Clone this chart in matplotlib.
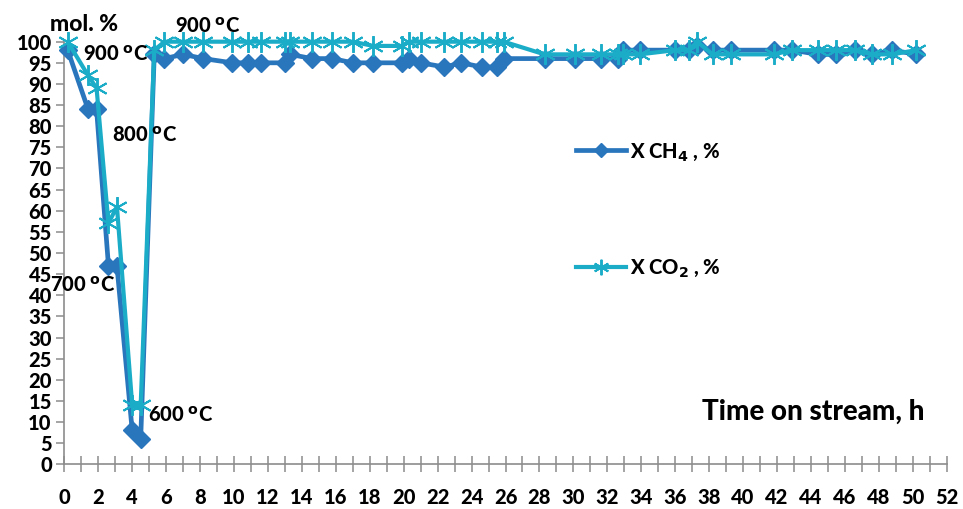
import matplotlib
matplotlib.use("Agg")
import matplotlib.pyplot as plt
from matplotlib.ticker import MultipleLocator

plt.rcParams['font.family'] = ['Lato', 'DejaVu Sans']
plt.rcParams['font.weight'] = 'black'
plt.rcParams['mathtext.default'] = 'bf'

# time on stream, h
time_h = [0.2, 1.4, 1.9, 2.6, 3.1, 4.0, 4.5, 5.3, 5.9, 7.0, 8.2, 9.9, 10.8, 11.6,
          13.0, 13.3, 14.6, 15.8, 17.0, 18.2, 19.9, 20.3, 21.0, 22.4, 23.4, 24.6,
          25.5, 25.9, 28.3, 30.1, 31.6, 32.6, 32.9, 33.9, 36.0, 36.8, 37.3, 38.2,
          39.3, 41.8, 42.9, 44.4, 45.5, 46.6, 47.6, 48.8, 50.2]

x_ch4 = [98, 84, 84, 47, 47, 8, 6, 97, 96, 97, 96, 95, 95, 95,
         95, 97, 96, 96, 95, 95, 95, 96, 95, 94, 95, 94,
         94, 96, 96, 96, 96, 96, 98, 98, 98, 98, 99, 98,
         98, 98, 98, 97, 97, 98, 97, 98, 97]

x_co2 = [100, 92, 89, 57, 61, 14, 14, 98, 100, 100, 100, 100, 100, 100,
         100, 100, 100, 100, 100, 99, 99, 100, 100, 100, 100, 100,
         100, 100, 97, 97, 97, 97, 97, 97, 98, 98, 100, 97,
         97, 97, 98, 98, 98, 98, 97, 97, 98]

temp_labels = ["900", "900", "800", "700", "600"]
temp_pos = [(1.1, 97.2), (6.5, 103.8), (2.8, 78.0), (-0.85, 42.4), (4.95, 11.7)]

blue = "#2a76bd"
cyan = "#1badc8"
grey = "#8c8c8c"

fig = plt.figure(figsize=(9.63, 5.09), dpi=100)
ax = fig.add_axes([0.0668, 0.0878, 0.9163, 0.8303])

ax.plot(time_h, x_ch4, color=blue, lw=3.4, marker="D", ms=9.5,
        mec=blue, mfc=blue, label=r"X CH$_{4}$ , %", clip_on=False, zorder=3)
ax.plot(time_h, x_co2, color=cyan, lw=3.0, marker=(6, 2, 0), ms=15,
        mec=cyan, mew=1.4, label=r"X CO$_{2}$ , %", clip_on=False, zorder=4)

ax.set_xlim(0, 52)
ax.set_ylim(0, 100)
ax.xaxis.set_major_locator(MultipleLocator(2))
ax.xaxis.set_minor_locator(MultipleLocator(1))
ax.yaxis.set_major_locator(MultipleLocator(5))

for s in ["top", "right"]:
    ax.spines[s].set_visible(False)
for s in ["left", "bottom"]:
    ax.spines[s].set_color(grey)
    ax.spines[s].set_linewidth(1.2)

ax.tick_params(axis="x", which="both", direction="inout", length=12, color=grey,
               width=1.1, pad=11, labelsize=14.5)
ax.tick_params(axis="y", direction="out", length=6, color=grey, width=1.1,
               pad=3, labelsize=14.5)

ax.text(-0.85, 104.1, "mol. %", fontsize=16.5, va="center", ha="left")
for lab, (tx, ty) in zip(temp_labels, temp_pos):
    ax.text(tx, ty, lab + r" $^{\mathbf{o}}$C", fontsize=14.5, va="center", ha="left",
            zorder=5)
ax.text(37.6, 12.4, "Time on stream, h", fontsize=20, va="center", ha="left")

ax.legend(loc="upper left", bbox_to_anchor=(576 / 963, 1 - 141 / 509),
          bbox_transform=fig.transFigure, frameon=False, fontsize=14.5,
          labelspacing=4.7, handlelength=2.5, handletextpad=0.2, borderpad=0,
          borderaxespad=0, markerscale=0.75)

fig.savefig("out.png", dpi=100)
